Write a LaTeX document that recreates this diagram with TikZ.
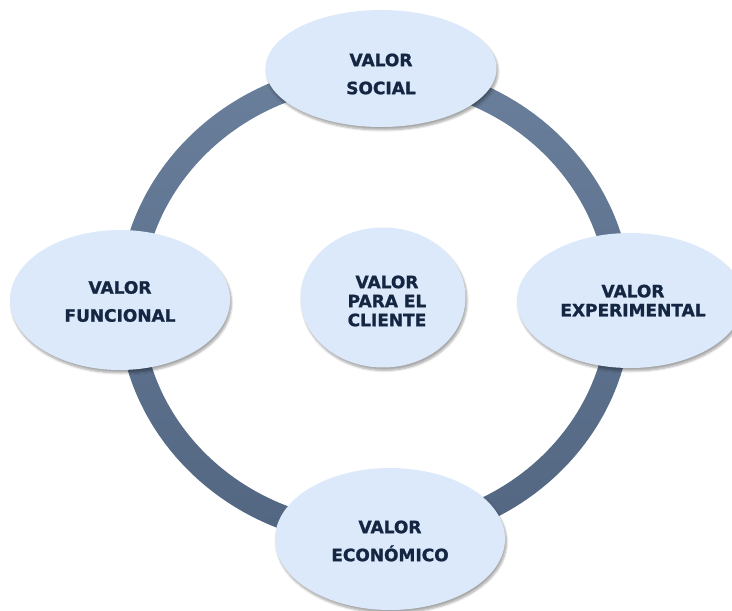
\documentclass[tikz,border=0pt]{standalone}
\usepackage{fontspec}
\setmainfont[BoldFeatures={FakeBold=1.2}]{DejaVu Sans}
\usetikzlibrary{shapes.geometric,shadows.blur}

\definecolor{ringtop}{RGB}{106,127,155}
\definecolor{ringbottom}{RGB}{82,102,130}
\definecolor{bubblefill}{RGB}{219,233,250}
\definecolor{labelink}{RGB}{20,38,66}

\tikzset{
  bubble/.style={ellipse, fill=bubblefill, inner sep=0pt,
    blur shadow={shadow xshift=1.5pt, shadow yshift=-3pt,
                 shadow opacity=35, shadow blur steps=6}},
  caption/.style={font=\fontsize{17}{28}\selectfont\bfseries,
    text=labelink, align=center, inner sep=0pt},
  tight/.style={font=\fontsize{17}{19}\selectfont\bfseries}
}

\begin{document}
\begin{tikzpicture}[x=1pt,y=1pt]
\useasboundingbox (0,0) rectangle (732,611);

% the ring that links the four outer values
\coordinate (hub) at (375,307);
\shade[top color=ringtop, bottom color=ringbottom, even odd rule]
  (hub) ellipse [x radius=257, y radius=242]
  (hub) ellipse [x radius=233, y radius=218];

% value bubbles
\node[bubble, minimum width=231, minimum height=117] (social)       at (381,542.5) {};
\node[bubble, minimum width=220, minimum height=140] (funcional)    at (120,311) {};
\node[bubble, minimum width=226, minimum height=135] (experimental) at (630,310.5) {};
\node[bubble, minimum width=230, minimum height=142] (economico)    at (390,72) {};
\node[bubble, minimum width=165, minimum height=140] (cliente)      at (383,313.5) {};

% captions
\node[caption] (socialtxt)       at ([yshift=-5.5pt]social.center)     {VALOR\\SOCIAL};
\node[caption] (funcionaltxt)    at ([yshift=-1.5pt]funcional.center)  {VALOR\\FUNCIONAL};
\node[caption, tight] (experimentaltxt) at ([xshift=3pt]experimental.center) {VALOR\\EXPERIMENTAL};
\node[caption] (economicotxt)    at ([yshift=-2pt]economico.center)    {VALOR\\ECONÓMICO};
\node[caption, tight] (clientetxt) at ([xshift=4pt,yshift=-3.5pt]cliente.center) {VALOR\\PARA EL\\CLIENTE};
\end{tikzpicture}
\end{document}
